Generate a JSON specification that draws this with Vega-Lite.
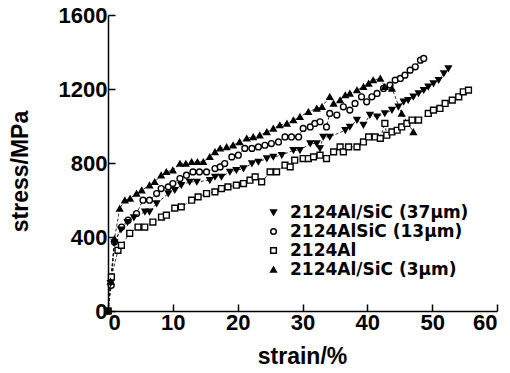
{
  "$schema": "https://vega.github.io/schema/vega-lite/v6.json",
  "width": 389,
  "height": 296,
  "autosize": {"type": "none"},
  "padding": {"left": 108, "top": 15, "right": 13, "bottom": 62},
  "background": "white",
  "config": {
    "view": {"stroke": null},
    "axis": {
      "domainColor": "black", "domainWidth": 1.5,
      "tickColor": "black", "tickWidth": 1.5, "tickSize": -7,
      "labelFont": "Liberation Sans", "labelFontWeight": "bold", "labelFontSize": 22, "labelColor": "black",
      "titleFont": "Liberation Sans", "titleFontWeight": "bold", "titleFontSize": 23, "titleColor": "black",
      "grid": false, "labelPadding": 8
    },
    "legend": {
      "labelFont": "DejaVu Sans", "labelFontWeight": "bold", "labelFontSize": 17, "labelColor": "black", "labelLimit": 400
    }
  },
  "data": {"values": [
    {"s": "2124Al", "x": 0, "y": 0},
    {"s": "2124Al", "x": 0.53, "y": 184},
    {"s": "2124Al", "x": 1.54, "y": 328},
    {"s": "2124Al", "x": 2.07, "y": 355},
    {"s": "2124Al", "x": 3.35, "y": 420},
    {"s": "2124Al", "x": 4.63, "y": 454},
    {"s": "2124Al", "x": 5.67, "y": 454},
    {"s": "2124Al", "x": 6.92, "y": 481},
    {"s": "2124Al", "x": 8.25, "y": 508},
    {"s": "2124Al", "x": 9.0, "y": 518},
    {"s": "2124Al", "x": 10.3, "y": 556},
    {"s": "2124Al", "x": 11.3, "y": 563},
    {"s": "2124Al", "x": 12.9, "y": 599},
    {"s": "2124Al", "x": 13.9, "y": 617},
    {"s": "2124Al", "x": 15.2, "y": 635},
    {"s": "2124Al", "x": 16.5, "y": 644},
    {"s": "2124Al", "x": 17.5, "y": 662},
    {"s": "2124Al", "x": 18.5, "y": 671},
    {"s": "2124Al", "x": 19.8, "y": 680},
    {"s": "2124Al", "x": 20.9, "y": 689},
    {"s": "2124Al", "x": 21.9, "y": 707},
    {"s": "2124Al", "x": 22.7, "y": 725},
    {"s": "2124Al", "x": 23.7, "y": 698},
    {"s": "2124Al", "x": 25.0, "y": 752},
    {"s": "2124Al", "x": 26.0, "y": 752},
    {"s": "2124Al", "x": 27.3, "y": 788},
    {"s": "2124Al", "x": 28.1, "y": 779},
    {"s": "2124Al", "x": 28.8, "y": 815},
    {"s": "2124Al", "x": 30.1, "y": 824},
    {"s": "2124Al", "x": 30.9, "y": 824},
    {"s": "2124Al", "x": 31.7, "y": 833},
    {"s": "2124Al", "x": 32.7, "y": 842},
    {"s": "2124Al", "x": 33.7, "y": 824},
    {"s": "2124Al", "x": 34.8, "y": 860},
    {"s": "2124Al", "x": 35.8, "y": 887},
    {"s": "2124Al", "x": 36.3, "y": 860},
    {"s": "2124Al", "x": 37.1, "y": 887},
    {"s": "2124Al", "x": 38.4, "y": 887},
    {"s": "2124Al", "x": 39.4, "y": 914},
    {"s": "2124Al", "x": 40.2, "y": 941},
    {"s": "2124Al", "x": 41.2, "y": 941},
    {"s": "2124Al", "x": 42.0, "y": 933},
    {"s": "2124Al", "x": 42.7, "y": 1014},
    {"s": "2124Al", "x": 43.0, "y": 950},
    {"s": "2124Al", "x": 43.8, "y": 968},
    {"s": "2124Al", "x": 44.6, "y": 977},
    {"s": "2124Al", "x": 45.3, "y": 995},
    {"s": "2124Al", "x": 46.1, "y": 1014},
    {"s": "2124Al", "x": 46.9, "y": 1032},
    {"s": "2124Al", "x": 47.9, "y": 1032},
    {"s": "2124Al", "x": 49.4, "y": 1068},
    {"s": "2124Al", "x": 50.2, "y": 1086},
    {"s": "2124Al", "x": 51.2, "y": 1095},
    {"s": "2124Al", "x": 52.0, "y": 1122},
    {"s": "2124Al", "x": 53.1, "y": 1140},
    {"s": "2124Al", "x": 54.1, "y": 1158},
    {"s": "2124Al", "x": 54.8, "y": 1185},
    {"s": "2124Al", "x": 55.6, "y": 1194},

    {"s": "2124AlSiC (13μm)", "x": 0, "y": 0},
    {"s": "2124AlSiC (13μm)", "x": 0.5, "y": 139},
    {"s": "2124AlSiC (13μm)", "x": 1.0, "y": 373},
    {"s": "2124AlSiC (13μm)", "x": 2.1, "y": 454},
    {"s": "2124AlSiC (13μm)", "x": 3.1, "y": 491},
    {"s": "2124AlSiC (13μm)", "x": 4.4, "y": 527},
    {"s": "2124AlSiC (13μm)", "x": 5.4, "y": 599},
    {"s": "2124AlSiC (13μm)", "x": 6.4, "y": 599},
    {"s": "2124AlSiC (13μm)", "x": 7.5, "y": 635},
    {"s": "2124AlSiC (13μm)", "x": 8.2, "y": 662},
    {"s": "2124AlSiC (13μm)", "x": 9.3, "y": 671},
    {"s": "2124AlSiC (13μm)", "x": 10.0, "y": 689},
    {"s": "2124AlSiC (13μm)", "x": 11.1, "y": 716},
    {"s": "2124AlSiC (13μm)", "x": 12.1, "y": 734},
    {"s": "2124AlSiC (13μm)", "x": 13.1, "y": 752},
    {"s": "2124AlSiC (13μm)", "x": 14.1, "y": 752},
    {"s": "2124AlSiC (13μm)", "x": 15.2, "y": 752},
    {"s": "2124AlSiC (13μm)", "x": 16.5, "y": 770},
    {"s": "2124AlSiC (13μm)", "x": 17.3, "y": 779},
    {"s": "2124AlSiC (13μm)", "x": 18.0, "y": 797},
    {"s": "2124AlSiC (13μm)", "x": 19.1, "y": 833},
    {"s": "2124AlSiC (13μm)", "x": 20.1, "y": 842},
    {"s": "2124AlSiC (13μm)", "x": 21.1, "y": 879},
    {"s": "2124AlSiC (13μm)", "x": 22.2, "y": 879},
    {"s": "2124AlSiC (13μm)", "x": 23.2, "y": 887},
    {"s": "2124AlSiC (13μm)", "x": 24.2, "y": 896},
    {"s": "2124AlSiC (13μm)", "x": 25.2, "y": 905},
    {"s": "2124AlSiC (13μm)", "x": 26.3, "y": 914},
    {"s": "2124AlSiC (13μm)", "x": 27.3, "y": 941},
    {"s": "2124AlSiC (13μm)", "x": 28.3, "y": 941},
    {"s": "2124AlSiC (13μm)", "x": 29.4, "y": 941},
    {"s": "2124AlSiC (13μm)", "x": 30.1, "y": 987},
    {"s": "2124AlSiC (13μm)", "x": 31.2, "y": 995},
    {"s": "2124AlSiC (13μm)", "x": 31.9, "y": 1014},
    {"s": "2124AlSiC (13μm)", "x": 32.7, "y": 1023},
    {"s": "2124AlSiC (13μm)", "x": 33.7, "y": 995},
    {"s": "2124AlSiC (13μm)", "x": 34.2, "y": 1068},
    {"s": "2124AlSiC (13μm)", "x": 35.3, "y": 1059},
    {"s": "2124AlSiC (13μm)", "x": 36.3, "y": 1104},
    {"s": "2124AlSiC (13μm)", "x": 37.3, "y": 1086},
    {"s": "2124AlSiC (13μm)", "x": 38.1, "y": 1122},
    {"s": "2124AlSiC (13μm)", "x": 39.1, "y": 1158},
    {"s": "2124AlSiC (13μm)", "x": 39.9, "y": 1131},
    {"s": "2124AlSiC (13μm)", "x": 40.7, "y": 1158},
    {"s": "2124AlSiC (13μm)", "x": 41.5, "y": 1176},
    {"s": "2124AlSiC (13μm)", "x": 42.5, "y": 1203},
    {"s": "2124AlSiC (13μm)", "x": 43.5, "y": 1221},
    {"s": "2124AlSiC (13μm)", "x": 44.3, "y": 1248},
    {"s": "2124AlSiC (13μm)", "x": 45.1, "y": 1257},
    {"s": "2124AlSiC (13μm)", "x": 45.8, "y": 1275},
    {"s": "2124AlSiC (13μm)", "x": 46.6, "y": 1302},
    {"s": "2124AlSiC (13μm)", "x": 47.4, "y": 1320},
    {"s": "2124AlSiC (13μm)", "x": 48.2, "y": 1356},
    {"s": "2124AlSiC (13μm)", "x": 48.7, "y": 1365},

    {"s": "2124Al/SiC (37μm)", "x": 0, "y": 0},
    {"s": "2124Al/SiC (37μm)", "x": 0.4, "y": 150},
    {"s": "2124Al/SiC (37μm)", "x": 1.0, "y": 370},
    {"s": "2124Al/SiC (37μm)", "x": 2.0, "y": 440},
    {"s": "2124Al/SiC (37μm)", "x": 3.0, "y": 480},
    {"s": "2124Al/SiC (37μm)", "x": 4.0, "y": 505},
    {"s": "2124Al/SiC (37μm)", "x": 5.7, "y": 536},
    {"s": "2124Al/SiC (37μm)", "x": 6.4, "y": 536},
    {"s": "2124Al/SiC (37μm)", "x": 7.5, "y": 581},
    {"s": "2124Al/SiC (37μm)", "x": 9.3, "y": 635},
    {"s": "2124Al/SiC (37μm)", "x": 10.3, "y": 653},
    {"s": "2124Al/SiC (37μm)", "x": 11.3, "y": 680},
    {"s": "2124Al/SiC (37μm)", "x": 12.6, "y": 698},
    {"s": "2124Al/SiC (37μm)", "x": 13.7, "y": 698},
    {"s": "2124Al/SiC (37μm)", "x": 15.7, "y": 707},
    {"s": "2124Al/SiC (37μm)", "x": 16.5, "y": 725},
    {"s": "2124Al/SiC (37μm)", "x": 17.5, "y": 725},
    {"s": "2124Al/SiC (37μm)", "x": 18.8, "y": 752},
    {"s": "2124Al/SiC (37μm)", "x": 19.8, "y": 761},
    {"s": "2124Al/SiC (37μm)", "x": 20.9, "y": 770},
    {"s": "2124Al/SiC (37μm)", "x": 22.2, "y": 797},
    {"s": "2124Al/SiC (37μm)", "x": 23.2, "y": 806},
    {"s": "2124Al/SiC (37μm)", "x": 24.5, "y": 824},
    {"s": "2124Al/SiC (37μm)", "x": 25.5, "y": 833},
    {"s": "2124Al/SiC (37μm)", "x": 26.8, "y": 842},
    {"s": "2124Al/SiC (37μm)", "x": 28.6, "y": 869},
    {"s": "2124Al/SiC (37μm)", "x": 29.6, "y": 869},
    {"s": "2124Al/SiC (37μm)", "x": 31.2, "y": 905},
    {"s": "2124Al/SiC (37μm)", "x": 32.2, "y": 905},
    {"s": "2124Al/SiC (37μm)", "x": 32.7, "y": 879},
    {"s": "2124Al/SiC (37μm)", "x": 33.2, "y": 941},
    {"s": "2124Al/SiC (37μm)", "x": 34.2, "y": 941},
    {"s": "2124Al/SiC (37μm)", "x": 36.6, "y": 977},
    {"s": "2124Al/SiC (37μm)", "x": 37.3, "y": 995},
    {"s": "2124Al/SiC (37μm)", "x": 38.4, "y": 1032},
    {"s": "2124Al/SiC (37μm)", "x": 39.4, "y": 1005},
    {"s": "2124Al/SiC (37μm)", "x": 40.4, "y": 1059},
    {"s": "2124Al/SiC (37μm)", "x": 41.5, "y": 1050},
    {"s": "2124Al/SiC (37μm)", "x": 42.7, "y": 1068},
    {"s": "2124Al/SiC (37μm)", "x": 43.8, "y": 1086},
    {"s": "2124Al/SiC (37μm)", "x": 44.8, "y": 1104},
    {"s": "2124Al/SiC (37μm)", "x": 45.6, "y": 1131},
    {"s": "2124Al/SiC (37μm)", "x": 46.3, "y": 1140},
    {"s": "2124Al/SiC (37μm)", "x": 47.1, "y": 1158},
    {"s": "2124Al/SiC (37μm)", "x": 47.9, "y": 1176},
    {"s": "2124Al/SiC (37μm)", "x": 48.7, "y": 1194},
    {"s": "2124Al/SiC (37μm)", "x": 49.4, "y": 1212},
    {"s": "2124Al/SiC (37μm)", "x": 50.2, "y": 1230},
    {"s": "2124Al/SiC (37μm)", "x": 51.0, "y": 1248},
    {"s": "2124Al/SiC (37μm)", "x": 51.8, "y": 1284},
    {"s": "2124Al/SiC (37μm)", "x": 52.5, "y": 1311},

    {"s": "2124Al/SiC (3μm)", "x": 0, "y": 0},
    {"s": "2124Al/SiC (3μm)", "x": 0.4, "y": 160},
    {"s": "2124Al/SiC (3μm)", "x": 1.0, "y": 390},
    {"s": "2124Al/SiC (3μm)", "x": 1.8, "y": 554},
    {"s": "2124Al/SiC (3μm)", "x": 2.6, "y": 599},
    {"s": "2124Al/SiC (3μm)", "x": 3.4, "y": 608},
    {"s": "2124Al/SiC (3μm)", "x": 4.4, "y": 635},
    {"s": "2124Al/SiC (3μm)", "x": 5.2, "y": 653},
    {"s": "2124Al/SiC (3μm)", "x": 6.4, "y": 680},
    {"s": "2124Al/SiC (3μm)", "x": 7.2, "y": 698},
    {"s": "2124Al/SiC (3μm)", "x": 8.2, "y": 734},
    {"s": "2124Al/SiC (3μm)", "x": 9.0, "y": 752},
    {"s": "2124Al/SiC (3μm)", "x": 10.0, "y": 761},
    {"s": "2124Al/SiC (3μm)", "x": 11.1, "y": 797},
    {"s": "2124Al/SiC (3μm)", "x": 12.0, "y": 797},
    {"s": "2124Al/SiC (3μm)", "x": 12.9, "y": 806},
    {"s": "2124Al/SiC (3μm)", "x": 13.8, "y": 806},
    {"s": "2124Al/SiC (3μm)", "x": 14.7, "y": 806},
    {"s": "2124Al/SiC (3μm)", "x": 15.7, "y": 833},
    {"s": "2124Al/SiC (3μm)", "x": 16.5, "y": 860},
    {"s": "2124Al/SiC (3μm)", "x": 17.3, "y": 879},
    {"s": "2124Al/SiC (3μm)", "x": 18.3, "y": 887},
    {"s": "2124Al/SiC (3μm)", "x": 19.3, "y": 896},
    {"s": "2124Al/SiC (3μm)", "x": 20.3, "y": 914},
    {"s": "2124Al/SiC (3μm)", "x": 21.4, "y": 933},
    {"s": "2124Al/SiC (3μm)", "x": 22.4, "y": 941},
    {"s": "2124Al/SiC (3μm)", "x": 23.4, "y": 950},
    {"s": "2124Al/SiC (3μm)", "x": 24.5, "y": 968},
    {"s": "2124Al/SiC (3μm)", "x": 25.5, "y": 987},
    {"s": "2124Al/SiC (3μm)", "x": 26.5, "y": 1005},
    {"s": "2124Al/SiC (3μm)", "x": 27.6, "y": 1014},
    {"s": "2124Al/SiC (3μm)", "x": 28.6, "y": 1032},
    {"s": "2124Al/SiC (3μm)", "x": 29.6, "y": 1050},
    {"s": "2124Al/SiC (3μm)", "x": 30.9, "y": 1077},
    {"s": "2124Al/SiC (3μm)", "x": 32.2, "y": 1095},
    {"s": "2124Al/SiC (3μm)", "x": 33.0, "y": 1104},
    {"s": "2124Al/SiC (3μm)", "x": 34.2, "y": 1158},
    {"s": "2124Al/SiC (3μm)", "x": 34.8, "y": 1122},
    {"s": "2124Al/SiC (3μm)", "x": 35.8, "y": 1140},
    {"s": "2124Al/SiC (3μm)", "x": 36.6, "y": 1167},
    {"s": "2124Al/SiC (3μm)", "x": 37.3, "y": 1176},
    {"s": "2124Al/SiC (3μm)", "x": 38.4, "y": 1194},
    {"s": "2124Al/SiC (3μm)", "x": 39.4, "y": 1212},
    {"s": "2124Al/SiC (3μm)", "x": 40.2, "y": 1230},
    {"s": "2124Al/SiC (3μm)", "x": 40.9, "y": 1248},
    {"s": "2124Al/SiC (3μm)", "x": 42.0, "y": 1257},
    {"s": "2124Al/SiC (3μm)", "x": 42.7, "y": 1212},
    {"s": "2124Al/SiC (3μm)", "x": 43.8, "y": 1203},
    {"s": "2124Al/SiC (3μm)", "x": 45.3, "y": 1068},
    {"s": "2124Al/SiC (3μm)", "x": 47.1, "y": 968}
  ]},
  "encoding": {
    "x": {"field": "x", "type": "quantitative",
      "scale": {"domain": [0, 60], "nice": false, "zero": true},
      "axis": {"values": [0, 10, 20, 30, 40, 50, 60], "format": "d", "title": "strain/%", "titleX": 194, "titleY": 52, "titleBaseline": "alphabetic", "titleAnchor": "middle"}},
    "y": {"field": "y", "type": "quantitative",
      "scale": {"domain": [0, 1600], "nice": false},
      "axis": {"values": [0, 400, 800, 1200, 1600], "format": "d", "title": "stress/MPa", "titleX": -81, "titleY": 156, "titleBaseline": "alphabetic", "titleAnchor": "middle", "titleAngle": -90}}
  },
  "layer": [
    {
      "mark": {"type": "line", "strokeDash": [3, 2], "strokeWidth": 0.8, "color": "black"},
      "encoding": {"detail": {"field": "s"}, "order": {"field": "x"}}
    },
    {
      "mark": {"type": "point", "filled": false, "stroke": "black", "strokeWidth": 1.4, "opacity": 1, "size": 34},
      "encoding": {
        "shape": {"field": "s", "type": "nominal",
          "scale": {"domain": ["2124Al/SiC (37μm)", "2124AlSiC (13μm)", "2124Al", "2124Al/SiC (3μm)"],
                    "range": ["triangle-down", "circle", "square", "triangle-up"]},
          "legend": {"title": null, "orient": "none", "legendX": 157, "legendY": 189, "padding": 0, "rowPadding": 1, "labelOffset": 8, "symbolSize": 32,
            "encode": {"symbols": {"update": {"stroke": {"value": "black"}, "strokeWidth": {"value": 1.2}, "opacity": {"value": 1}}}}}},
        "fill": {"field": "s", "type": "nominal",
          "scale": {"domain": ["2124Al/SiC (37μm)", "2124AlSiC (13μm)", "2124Al", "2124Al/SiC (3μm)"],
                    "range": ["black", "white", "white", "black"]},
          "legend": {"title": null, "orient": "none", "legendX": 157, "legendY": 189, "padding": 0, "rowPadding": 1, "labelOffset": 8, "symbolSize": 32,
            "encode": {"symbols": {"update": {"stroke": {"value": "black"}, "strokeWidth": {"value": 1.2}, "opacity": {"value": 1}}}}}}
      }
    }
  ]
}
